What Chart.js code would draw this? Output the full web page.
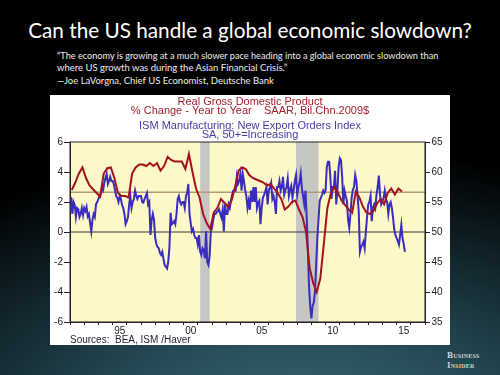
<!DOCTYPE html>
<html>
<head>
<meta charset="utf-8">
<script src="https://cdn.jsdelivr.net/npm/chart.js@4.4.1/dist/chart.umd.min.js"></script>
<style>
html,body{margin:0;padding:0;}
body{width:500px;height:375px;overflow:hidden;position:relative;
  background:radial-gradient(ellipse 130% 95% at 60% 115%, #3a6a77 0%, #254a55 30%, #0f2026 58%, #000 80%);
  font-family:Lato,"Open Sans",sans-serif;}
#title{position:absolute;left:0;width:500px;text-align:center;top:20px;color:#fff;font-size:20px;line-height:1;white-space:nowrap;}
#title span, .q span{display:inline-block;}
.q{position:absolute;left:57px;color:#eeeeee;font-size:9.5px;line-height:1;white-space:nowrap;}
#box{position:absolute;left:50px;top:95px;width:400px;height:250px;background:#fff;}
#box canvas{display:block;}
.logo{position:absolute;left:447px;color:#c9d1d4;font-family:"Liberation Serif","DejaVu Serif",serif;font-variant:small-caps;font-weight:bold;font-size:9px;line-height:1;white-space:nowrap;letter-spacing:0.2px;}
</style>
</head>
<body>
<div id="title"><span id="titleText">Can the US handle a global economic slowdown?</span></div>
<div class="q" id="q1" style="top:51px"><span>“The economy is growing at a much slower pace heading into a global economic slowdown than</span></div>
<div class="q" id="q2" style="top:63px"><span>where US growth was during the Asian Financial Crisis.”</span></div>
<div class="q" id="q3" style="top:76px"><span>—Joe LaVorgna, Chief US Economist, Deutsche Bank</span></div>
<div id="box"><canvas id="c" width="400" height="250"></canvas></div>
<div class="logo" style="top:351px">Business</div>
<div class="logo" style="top:361px">Insider</div>
<script>
// ---- data ----
// Real GDP, % change year to year, quarterly from 1992 Q1
const gdpYoY = [
  2.8, 3.3, 3.9, 4.3,
  3.6, 3.1, 2.85, 2.6,
  2.35, 3.9, 4.25, 4.3,
  3.6, 2.6, 2.4, 2.4,
  2.3, 3.9, 4.3, 4.5,
  4.5, 4.4, 4.6, 4.4,
  4.6, 4.1, 4.4, 5.0,
  4.8, 4.7, 4.7, 4.7,
  4.2, 5.2, 4.0, 2.9,
  2.3, 1.2, 0.6, 0.2,
  1.3, 1.6, 2.2, 1.95,
  1.7, 2.1, 3.0, 4.1,
  4.3, 4.2, 3.8, 3.6,
  3.5, 3.4, 3.3, 3.1,
  3.2, 2.9, 2.6, 2.2,
  1.5, 1.7, 2.0, 2.1,
  1.5, 1.0, 0.0, -2.4,
  -3.4, -4.0, -3.1, -0.8,
  1.6, 2.6, 3.0, 2.6,
  2.1, 1.8, 1.5, 1.3,
  2.7, 2.3, 1.7, 1.3,
  1.2, 1.4, 1.9, 2.2,
  1.85, 2.6, 2.9, 2.5,
  2.9, 2.7
];
// ISM Manufacturing: New Export Orders Index, monthly from Jan 1992
const ismExportOrders = [
  53.5, 55.8, 53, 55, 54.5, 52.5, 54, 53.8, 52.5, 53, 54, 52.8,
  54, 53.5, 54.2, 52.6, 53, 51.5, 50.1, 52, 53, 52.5, 54.6, 55,
  55.5, 56, 56.3, 57.5, 57, 58.2, 59, 59.7, 58, 58.5, 59.2, 58.5,
  58.5, 58, 57, 56, 55.7, 55, 56, 55.5, 54.5, 54, 53, 51.3,
  51.8, 52.5, 54.6, 56, 54, 55, 55.5, 56.9, 56, 55.5, 56, 56,
  56, 55, 54.9, 55.5, 56, 56.5, 54.6, 55, 49.5, 52, 53, 52,
  49, 48, 47.5, 47.3, 46.5, 46.2, 46.7, 45.5, 44.5, 44.2, 43.9, 45,
  47.3, 53.2, 51.3, 51.5, 51.8, 51.3, 53, 55.5, 56, 55, 54.6, 55,
  55, 54, 56, 56.5, 58, 53, 51.5, 50.1, 50.5, 49.5, 49, 49,
  47.9, 49.5, 46.7, 46.2, 47.3, 47, 45.6, 50.1, 45, 44.5, 46, 50,
  50.7, 52, 53, 53, 53.3, 53.5, 53.8, 53, 52.4, 53.7, 50.1, 54.6,
  53, 53, 54.6, 54, 55.2, 56.2, 56.9, 57, 56.9, 59.2, 58, 58.5,
  59.7, 56.9, 59.7, 58.5, 57, 56, 54, 55.2, 53.7, 56.9, 55, 57.5,
  55, 57.5, 54, 54.8, 55.2, 51.3, 54, 55.7, 56.2, 56.8, 57.5, 54.6,
  56.9, 57.5, 58.2, 55.5, 56, 55, 53, 57.5, 57.5, 58.5, 56.9, 57.5,
  59.2, 56.2, 57, 57.5, 58.9, 56, 57, 57.7, 55.7, 57, 58.5, 59.5,
  56.2, 57.5, 58.2, 59.7, 57.2, 56, 54.6, 56.9, 52.6, 47, 41, 37.5,
  35.6, 37.7, 38.2, 40, 44.5, 49, 52, 55.2, 55.7, 56.2, 56.9, 56.5,
  56.9, 60.8, 61.7, 61.7, 59.2, 55.5, 57.5, 57.5, 60.2, 54.6, 57, 60.8,
  62.3, 62, 59.2, 54.6, 56.9, 56, 55.2, 52, 50.7, 53, 55.7, 57,
  57.5, 59.5, 58.5, 56, 53.5, 46.7, 47.5, 47.9, 48.4, 47.3, 50, 52.4,
  54.6, 55, 56, 51.8, 54, 54.6, 54, 56.2, 57.5, 59.4, 56.2, 54.6,
  55, 55.7, 56.9, 55.5, 55, 53, 54.6, 55, 54, 52.4, 50.5, 49.5,
  49, 48.5, 47.9, 49.5, 51.2, 49, 48, 46.7
];
const startYear = 1992;
const endYear = 2017;
const gdpAverage = 2.65;
const recessions = [[2001.17, 2001.83], [2007.92, 2009.5]];
const leftTicks = [-6, -4, -2, 0, 2, 4, 6];
const rightTicks = [35, 40, 45, 50, 55, 60, 65];
const yearLabels = {1995: '95', 2000: '00', 2005: '05', 2010: '10', 2015: '15'};

// ---- text fitting for slide text ----
function fitWidth(el, target) {
  const span = el.querySelector('span') || el;
  const w = span.getBoundingClientRect().width;
  const fs = parseFloat(getComputedStyle(el).fontSize);
  el.style.fontSize = (fs * target / w) + 'px';
}
fitWidth(document.getElementById('title'), 444);
fitWidth(document.getElementById('q1'), 382);

// ---- chart ----
const gdpPoints = gdpYoY.map((v, i) => ({x: startYear + (i + 0.5) / 4, y: v}));
const ismPoints = ismExportOrders.map((v, i) => ({x: startYear + i / 12, y: v}));

const FONT = 'Liberation Sans, Arial, sans-serif';

const backdrop = {
  id: 'backdrop',
  beforeDraw(chart) {
    const {ctx, chartArea: a, scales: {x, y}} = chart;
    ctx.save();
    ctx.fillStyle = '#ffffff';
    ctx.fillRect(0, 0, chart.width, chart.height);
    ctx.fillStyle = '#fcf8c8';
    ctx.fillRect(a.left, a.top, a.width, a.height);
    ctx.fillStyle = '#c6c6c2';
    recessions.forEach(([s, e]) => {
      const x0 = x.getPixelForValue(s), x1 = x.getPixelForValue(e);
      ctx.fillRect(x0, a.top, x1 - x0, a.height);
    });
    // average growth line
    const ya = y.getPixelForValue(gdpAverage);
    ctx.strokeStyle = '#b29b7c';
    ctx.lineWidth = 1.3;
    ctx.beginPath(); ctx.moveTo(a.left, ya); ctx.lineTo(a.right, ya); ctx.stroke();
    // zero line
    const y0 = y.getPixelForValue(0);
    ctx.strokeStyle = '#3a3a30';
    ctx.lineWidth = 1;
    ctx.beginPath(); ctx.moveTo(a.left, y0); ctx.lineTo(a.right, y0); ctx.stroke();
    ctx.restore();
  },
  afterDatasetsDraw(chart) {
    const {ctx, chartArea: a} = chart;
    ctx.save();
    ctx.strokeStyle = '#222';
    ctx.lineWidth = 1;
    ctx.strokeRect(a.left, a.top, a.width, a.height);
    ctx.restore();
  }
};

new Chart(document.getElementById('c'), {
  type: 'line',
  data: {
    datasets: [
      {label: 'Real GDP % change y/y', data: gdpPoints, yAxisID: 'y', borderColor: '#a3121f', borderWidth: 2, pointRadius: 0, tension: 0, order: 1},
      {label: 'ISM New Export Orders', data: ismPoints, yAxisID: 'y2', borderColor: '#3a2cbf', borderWidth: 2, pointRadius: 0, tension: 0, order: 2}
    ]
  },
  options: {
    responsive: false,
    animation: false,
    devicePixelRatio: 1,
    layout: {padding: 0},
    plugins: {
      legend: {display: false},
      tooltip: {enabled: false},
      title: {
        display: true,
        text: ['Real Gross Domestic Product', '% Change - Year to Year    SAAR, Bil.Chn.2009$'],
        color: '#a3202c',
        font: {family: FONT, size: 11, weight: 'normal', lineHeight: 9 / 11},
        padding: {top: 2.5, bottom: 5.5}
      },
      subtitle: {
        display: true,
        text: ['ISM Manufacturing: New Export Orders Index', 'SA, 50+=Increasing'],
        color: '#4a3aa6',
        font: {family: FONT, size: 11, weight: 'normal', lineHeight: 9 / 11},
        padding: {top: 0, bottom: 3}
      }
    },
    scales: {
      x: {
        type: 'linear', min: startYear, max: endYear,
        afterBuildTicks: s => { const t = []; for (let yr = startYear; yr <= endYear; yr++) t.push({value: yr}); s.ticks = t; },
        ticks: {autoSkip: false, maxRotation: 0, minRotation: 0, labelOffset: 7.1, padding: 0.5,
                callback: v => yearLabels[v] || '', color: '#1c1c1c', font: {family: FONT, size: 10}},
        grid: {drawOnChartArea: false, drawTicks: true, tickLength: 3, color: '#222'},
        border: {display: true, color: '#222', width: 1},
        title: {display: true, text: 'Sources:  BEA, ISM /Haver', align: 'start', color: '#1e2233',
                font: {family: FONT, size: 10, lineHeight: 1.1}, padding: {top: 0, bottom: -0.5}},
        afterFit: s => { s.height = 23; }
      },
      y: {
        position: 'left', min: -6, max: 6,
        afterBuildTicks: s => { s.ticks = leftTicks.map(v => ({value: v})); },
        ticks: {color: '#1c1c1c', padding: 1, font: {family: FONT, size: 10}},
        grid: {drawOnChartArea: false, drawTicks: true, tickLength: 6, color: '#222'},
        border: {display: true, color: '#222', width: 1},
        afterFit: s => { s.width = 20; }
      },
      y2: {
        position: 'right', min: 35, max: 65,
        afterBuildTicks: s => { s.ticks = rightTicks.map(v => ({value: v})); },
        ticks: {color: '#1c1c1c', padding: 1.5, font: {family: FONT, size: 10}},
        grid: {drawOnChartArea: false, drawTicks: true, tickLength: 5, color: '#222'},
        border: {display: true, color: '#222', width: 1},
        afterFit: s => { s.width = 25; }
      }
    }
  },
  plugins: [backdrop]
});
</script>
</body>
</html>
